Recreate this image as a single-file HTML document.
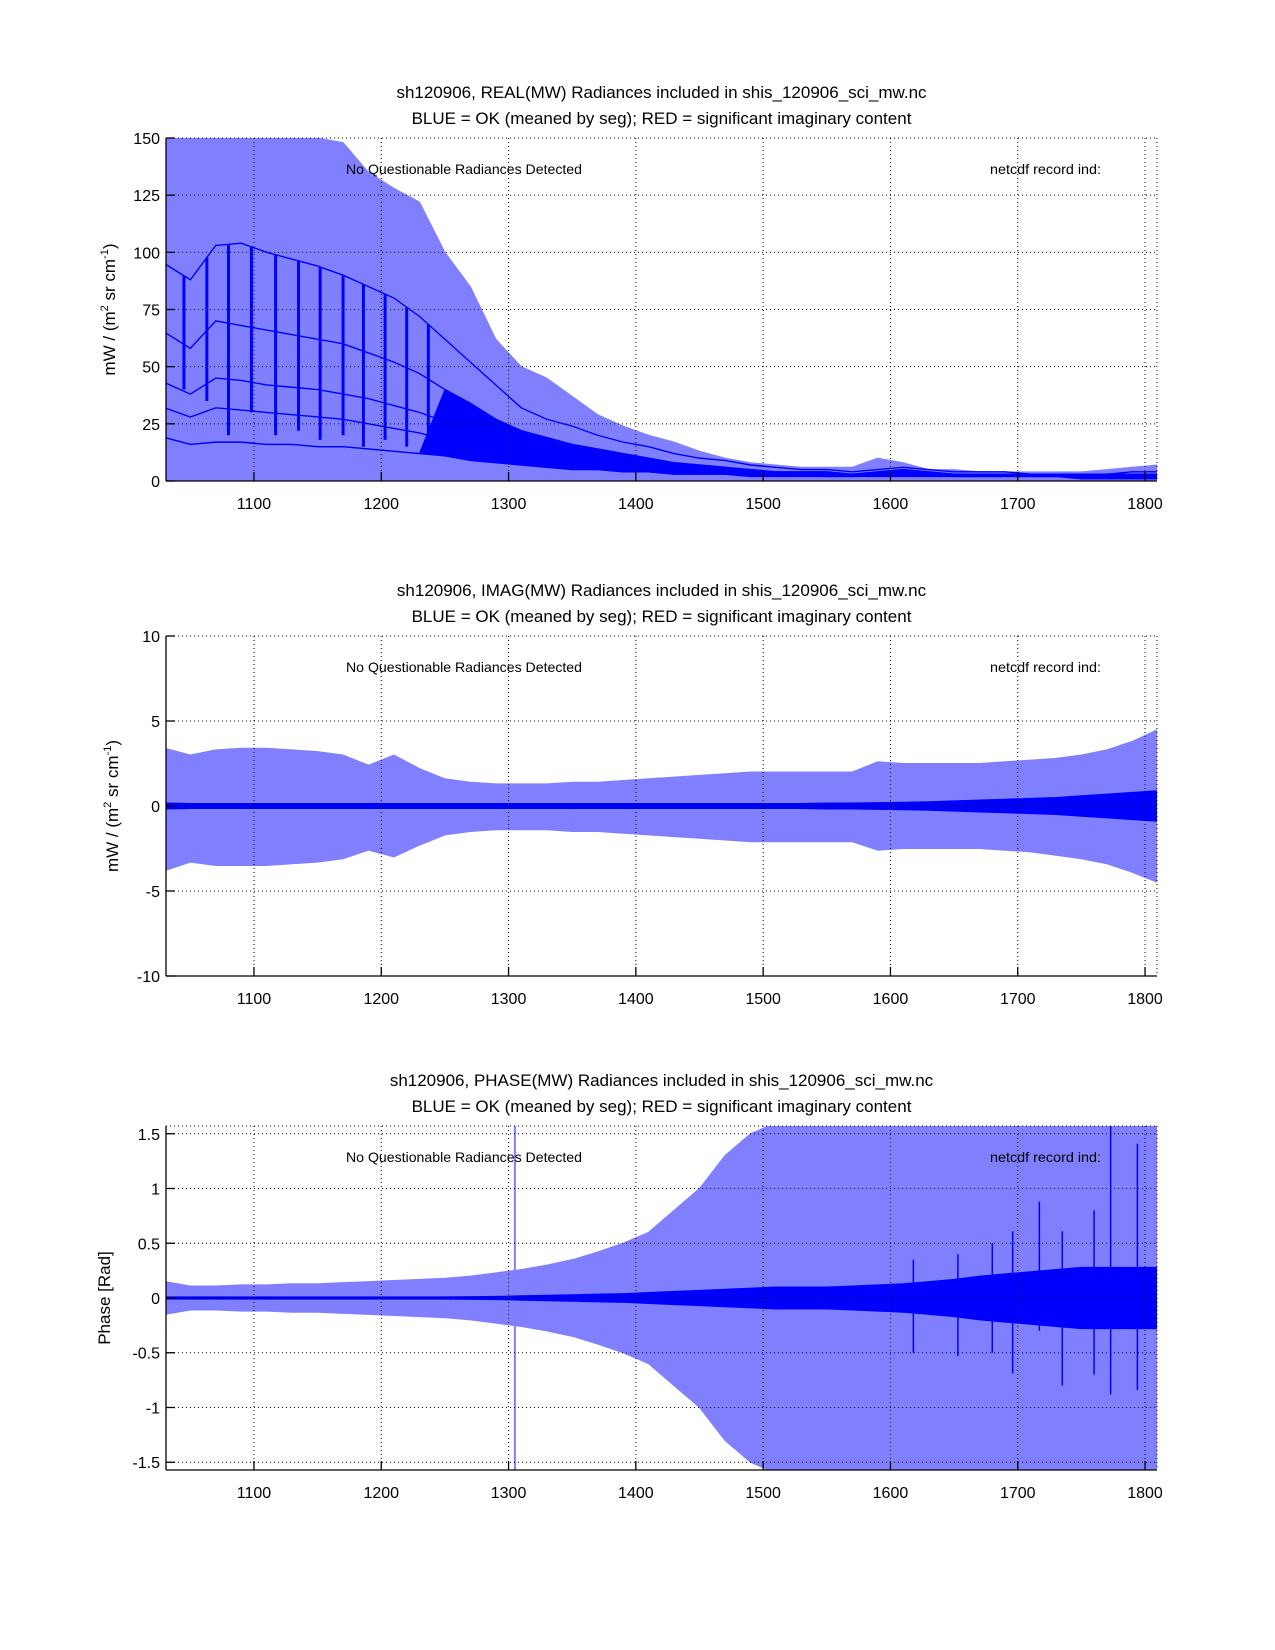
<!DOCTYPE html>
<html><head><meta charset="utf-8"><style>
body{margin:0;background:#fff}
svg{display:block}
text{font-family:"Liberation Sans",sans-serif;fill:#000}
</style></head><body>
<svg id="c" width="1275" height="1650" viewBox="0 0 1275 1650"></svg>
<script>
// shared wavenumber grid (cm-1), 20 cm-1 steps
const wn = [1030,1050,1070,1090,1110,1130,1150,1170,1190,1210,1230,1250,1270,1290,1310,1330,1350,1370,1390,1410,1430,1450,1470,1490,1510,1530,1550,1570,1590,1610,1630,1650,1670,1690,1710,1730,1750,1770,1790,1810];
const xTicks = [1100,1200,1300,1400,1500,1600,1700,1800];
// panel 1 REAL
const realEnv = [150,150,150,150,150,150,150,148,135,128,122,100,85,62,50,45,37,29,24,20,17,13,10,8,7,6,6,6,10,8,5,5,4,4,4,4,4,5,6,7];
const realA = [95,88,103,104,100,97,94,90,85,80,72,62,52,42,32,27,24,20,17,15,12,10,9,7,6,5,5,4,5,6,5,4,4,4,3,3,3,3,4,4];
const realB = [65,58,70,68,66,64,62,60,56,52,47,40,34,27,22,19,16,14,12,10,8,7,6,5,4,4,4,3,4,5,4,3,3,3,3,3,3,3,3,3];
const realC = [43,38,45,44,42,41,40,38,36,33,30,26,22,18,15,13,11,10,8,7,6,5,5,4,3,3,3,3,3,4,3,3,3,3,2,2,2,2,3,3];
const realD = [32,28,32,31,30,29,28,27,25,23,21,18,15,13,11,9,8,7,6,5,5,4,4,3,3,3,2,2,3,3,3,2,2,2,2,2,2,2,2,2];
const realE = [19,16,17,17,16,16,15,15,14,13,12,11,9,8,7,6,5,5,4,4,3,3,3,2,2,2,2,2,2,2,2,2,2,2,2,2,1,1,1,1];
const dipPos = [1045,1063,1080,1098,1117,1135,1152,1170,1186,1203,1220,1237];
const dipLow = [40,35,20,30,20,22,18,20,15,18,15,12];
const realTicks = [0,25,50,75,100,125,150];
// panel 2 IMAG
const imagUp = [3.4,3.0,3.3,3.4,3.4,3.3,3.2,3.0,2.4,3.0,2.2,1.6,1.4,1.3,1.3,1.3,1.4,1.4,1.5,1.6,1.7,1.8,1.9,2.0,2.0,2.0,2.0,2.0,2.6,2.5,2.5,2.5,2.5,2.6,2.7,2.8,3.0,3.3,3.8,4.5];
const imagLo = [3.8,3.3,3.5,3.5,3.5,3.4,3.3,3.1,2.6,3.0,2.3,1.7,1.5,1.4,1.4,1.4,1.5,1.5,1.6,1.7,1.8,1.9,2.0,2.1,2.1,2.1,2.1,2.1,2.6,2.5,2.5,2.5,2.5,2.6,2.7,2.9,3.1,3.4,3.9,4.5];
const imagDark = [0.18,0.15,0.15,0.15,0.15,0.15,0.15,0.15,0.15,0.15,0.15,0.15,0.15,0.15,0.15,0.15,0.15,0.15,0.15,0.15,0.15,0.15,0.15,0.15,0.15,0.15,0.18,0.18,0.2,0.22,0.25,0.3,0.35,0.4,0.45,0.5,0.6,0.7,0.8,0.9];
const imagTicks = [-10,-5,0,5,10];
// panel 3 PHASE
const phaseEnv = [0.15,0.11,0.11,0.12,0.12,0.13,0.13,0.14,0.15,0.16,0.17,0.18,0.2,0.23,0.26,0.3,0.35,0.42,0.5,0.6,0.8,1.0,1.3,1.5,1.6,1.6,1.6,1.6,1.6,1.6,1.6,1.6,1.6,1.6,1.6,1.6,1.6,1.6,1.6,1.6];
const phaseDark = [0.01,0.01,0.01,0.01,0.01,0.01,0.01,0.01,0.01,0.01,0.01,0.01,0.012,0.015,0.02,0.025,0.03,0.035,0.04,0.05,0.06,0.07,0.08,0.09,0.1,0.1,0.1,0.11,0.12,0.13,0.15,0.17,0.2,0.22,0.24,0.26,0.28,0.28,0.28,0.28];
const lightSpikeX = [1305];
const darkSpikeX = [1618,1653,1680,1696,1717,1735,1760,1773,1794];
const darkSpikeTop = [0.35,0.4,0.5,0.61,0.88,0.61,0.8,1.57,1.41];
const darkSpikeBot = [-0.5,-0.53,-0.5,-0.69,-0.3,-0.8,-0.7,-0.88,-0.84];
const phaseTicks = [-1.5,-1,-0.5,0,0.5,1,1.5];

const NS='http://www.w3.org/2000/svg';
const svg=document.getElementById('c');
const L=166,R=1157,XMIN=1030.9,XMAX=1809.4;
const X=v=>L+(v-XMIN)*(R-L)/(XMAX-XMIN);
function mk(tag,attrs,parent){const e=document.createElementNS(NS,tag);for(const k in attrs)e.setAttribute(k,attrs[k]);(parent||svg).appendChild(e);return e;}
function txt(s,x,y,attrs,parent){const t=mk('text',Object.assign({x:x,y:y},attrs),parent);t.textContent=s;return t;}
const LIGHT='#8080ff',DARK='#0000ff';

function panel(id,top,bot,ymin,ymax,ticks,title1,ylabel,ylabelX,draw){
  const g=mk('g',{});
  
  
  const Y=v=>bot-(v-ymin)*(bot-top)/(ymax-ymin);
  const cp=mk('clipPath',{id:id+'-clip'},g);
  mk('rect',{x:L,y:top,width:R-L,height:bot-top},cp);
  const plot=mk('g',{'clip-path':'url(#'+id+'-clip)'},g);
  
  
  draw(plot,Y);
  const grid=mk('g',{stroke:'#000','stroke-width':1,'stroke-dasharray':'1,3'},g);
  
  
  xTicks.forEach(v=>mk('line',{x1:X(v),x2:X(v),y1:top,y2:bot},grid));
  ticks.forEach(v=>mk('line',{x1:L,x2:R,y1:Y(v),y2:Y(v)},grid));
  mk('line',{x1:L,x2:R,y1:top,y2:top},grid);
  mk('line',{x1:R,x2:R,y1:top,y2:bot},grid);
  const ax=mk('g',{stroke:'#000','stroke-width':1.3},g);
  
  
  mk('line',{x1:L,x2:L,y1:top,y2:bot},ax);
  mk('line',{x1:L,x2:R,y1:bot,y2:bot},ax);
  xTicks.forEach(v=>{mk('line',{x1:X(v),x2:X(v),y1:bot,y2:bot-9},ax);});
  ticks.forEach(v=>{mk('line',{x1:L,x2:L+9,y1:Y(v),y2:Y(v)},ax);});
  xTicks.forEach(v=>{const t=txt(String(v),X(v),bot+28,{'font-size':16,'text-anchor':'middle'},g);
    });
  ticks.forEach(v=>{const t=txt(String(v),L-6,Y(v)+6,{'font-size':16,'text-anchor':'end'},g);
    });
  const t1=txt(title1,(L+R)/2,top-40,{'font-size':17,'text-anchor':'middle'},g);
  
  const t2=txt('BLUE = OK (meaned by seg); RED = significant imaginary content',(L+R)/2,top-14,{'font-size':17,'text-anchor':'middle'},g);
  
  const a1=txt('No Questionable Radiances Detected',346,top+36,{'font-size':14,textLength:236,lengthAdjust:'spacingAndGlyphs'},g);
  
  const a2=txt('netcdf record ind:',990,top+36,{'font-size':14,textLength:111,lengthAdjust:'spacingAndGlyphs'},g);
  
  const yl=mk('text',{x:0,y:0,'font-size':17,'text-anchor':'middle',transform:'translate('+ylabelX+','+((top+bot)/2)+') rotate(-90)'},g);
  yl.innerHTML=ylabel;
  
}
function band(parent,up,lo,Y,color,name){
  let d='M'+X(wn[0])+','+Y(up[0]);
  for(let i=1;i<wn.length;i++)d+=' L'+X(wn[i])+','+Y(up[i]);
  for(let i=wn.length-1;i>=0;i--)d+=' L'+X(wn[i])+','+Y(lo[i]);
  const p=mk('path',{d:d+'Z',fill:color,stroke:color,'stroke-width':1},parent);
  
  
  return p;
}
function line(parent,vals,Y,name,w){
  const p=mk('polyline',{points:wn.map((v,i)=>X(v)+','+Y(vals[i])).join(' '),fill:'none',stroke:DARK,'stroke-width':w||1.4},parent);
  
  
}
const ylab='mW / (m<tspan dy="-7" font-size="11">2</tspan><tspan dy="7"> sr cm</tspan><tspan dy="-7" font-size="11">-1</tspan><tspan dy="7">)</tspan>';

panel('real',138,481,0,150,realTicks,'sh120906, REAL(MW) Radiances included in shis_120906_sci_mw.nc',ylab,115,(g,Y)=>{
  band(g,realEnv,wn.map(()=>0),Y,LIGHT,'real-spread-envelope');
  const dense=wn.map((v,i)=>v>=1240?realB[i]:realE[i]);
  band(g,dense,realE,Y,DARK,'real-dense-band');
  line(g,realA,Y,'real-mean-line-1');line(g,realB,Y,'real-mean-line-2');line(g,realC,Y,'real-mean-line-3');
  line(g,realD,Y,'real-mean-line-4');line(g,realE,Y,'real-mean-line-5');
  dipPos.forEach((p,i)=>{
    let k=0;while(k<wn.length-2&&wn[k+1]<p)k++;
    const hi=realA[k]+(realA[k+1]-realA[k])*(p-wn[k])/(wn[k+1]-wn[k]);
    const l=mk('line',{x1:X(p),x2:X(p),y1:Y(hi),y2:Y(dipLow[i]),stroke:DARK,'stroke-width':3},g);
    
    
  });
});
panel('imag',636,976,-10,10,imagTicks,'sh120906, IMAG(MW) Radiances included in shis_120906_sci_mw.nc',ylab,118,(g,Y)=>{
  band(g,imagUp,imagLo.map(v=>-v),Y,LIGHT,'imag-spread-envelope');
  band(g,imagDark,imagDark.map(v=>-v),Y,DARK,'imag-mean-band');
});
panel('phase',1126,1470,-1.5708,1.5708,phaseTicks,'sh120906, PHASE(MW) Radiances included in shis_120906_sci_mw.nc','Phase [Rad]',110,(g,Y)=>{
  band(g,phaseEnv,phaseEnv.map(v=>-v),Y,LIGHT,'phase-spread-envelope');
  lightSpikeX.forEach(p=>{const l=mk('line',{x1:X(p),x2:X(p),y1:Y(1.6),y2:Y(-1.6),stroke:LIGHT,'stroke-width':2},g);
    });
  band(g,phaseDark,phaseDark.map(v=>-v),Y,DARK,'phase-mean-band');
  darkSpikeX.forEach((p,i)=>{const l=mk('line',{x1:X(p),x2:X(p),y1:Y(darkSpikeTop[i]),y2:Y(darkSpikeBot[i]),stroke:DARK,'stroke-width':1.5},g);
    });
  line(g,wn.map(()=>0),Y,'phase-zero-mean',2);
});
</script>
</body></html>
